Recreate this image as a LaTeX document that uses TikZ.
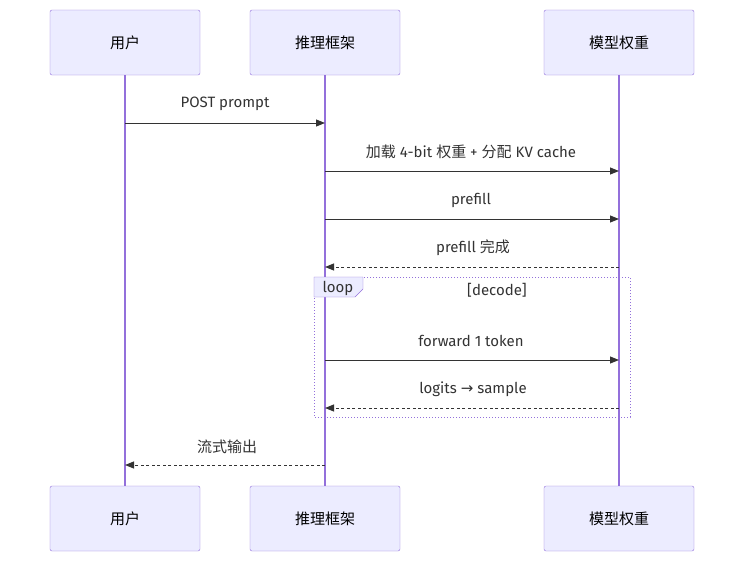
\documentclass[tikz,border=0pt]{standalone}
\usepackage{fontspec}
\setmainfont{Fira Sans}
\newfontfamily\cjk{Noto Sans CJK SC}
\newfontfamily\dvs{DejaVu Sans}
\usetikzlibrary{arrows.meta}
\definecolor{boxfill}{HTML}{ECECFF}
\definecolor{boxline}{HTML}{9370DB}
\definecolor{ink}{HTML}{333333}
\begin{document}
\begin{tikzpicture}[x=1pt,y=-1pt,
  actor/.style={draw=boxline,fill=boxfill,rounded corners=2pt,minimum width=150pt,minimum height=65pt,font=\fontsize{15}{18}\selectfont\cjk,text=black},
  life/.style={draw=boxline,line width=1.2pt},
  msg/.style={draw=ink,line width=1pt,-{Triangle[length=9pt,width=7pt]}},
  ret/.style={msg,dash pattern=on 3pt off 2.5pt},
  lbl/.style={font=\fontsize{15}{18}\selectfont,text=ink}]
\useasboundingbox (0,0) rectangle (744,562);
\node[actor] (u1) at (125,42.5) {用户};
\node[actor] (f1) at (325,42.5) {推理框架};
\node[actor] (m1) at (619,42.5) {模型权重};
\node[actor] (u2) at (125,518.5) {用户};
\node[actor] (f2) at (325,518.5) {推理框架};
\node[actor] (m2) at (619,518.5) {模型权重};
\draw[life] (u1) -- (u2);
\draw[life] (f1) -- (f2);
\draw[life] (m1) -- (m2);
% loop
\draw[boxline,line width=1pt,dotted] (314,277) rectangle (630,417);
\node[draw=boxline,fill=boxfill,inner sep=0pt,minimum width=0pt,anchor=north west,font=\fontsize{15}{18}\selectfont,text=ink] (lt) at (314,277) {\phantom{loopxx}};
\draw[boxline,fill=boxfill] (314,277) -- (363,277) -- (363,289) -- (355,297) -- (314,297) -- cycle;
\node[lbl,anchor=center] (ltext) at (338,288) {loop};
\node[lbl] (dec) at (497,290) {[decode]};
\coordinate (a1) at (125,123); \coordinate (b1) at (325,123);
\coordinate (a2) at (325,171); \coordinate (b2) at (619,171);
\coordinate (a3) at (325,219); \coordinate (b3) at (619,219);
\coordinate (a4) at (619,267); \coordinate (b4) at (325,267);
\coordinate (a5) at (325,360); \coordinate (b5) at (619,360);
\coordinate (a6) at (619,408); \coordinate (b6) at (325,408);
\coordinate (a7) at (325,465); \coordinate (b7) at (125,465);
\draw[msg] (a1) -- (b1);
\draw[msg] (a2) -- (b2);
\draw[msg] (a3) -- (b3);
\draw[ret] (a4) -- (b4);
\draw[msg] (a5) -- (b5);
\draw[ret] (a6) -- (b6);
\draw[ret] (a7) -- (b7);
\node[lbl] (l1) at (225,104) {POST prompt};
\node[lbl] (l2) at (471,152) {{\cjk 加载} 4-bit {\cjk 权重} + {\cjk 分配} KV cache};
\node[lbl] (l3) at (471,200) {prefill};
\node[lbl] (l4) at (473,248) {prefill {\cjk 完成}};
\node[lbl] (l5) at (471,341) {forward 1 token};
\node[lbl] (l6) at (473,389) {logits {\dvs →} sample};
\node[lbl] (l7) at (227,447) {\cjk 流式输出};
\end{tikzpicture}
\end{document}
